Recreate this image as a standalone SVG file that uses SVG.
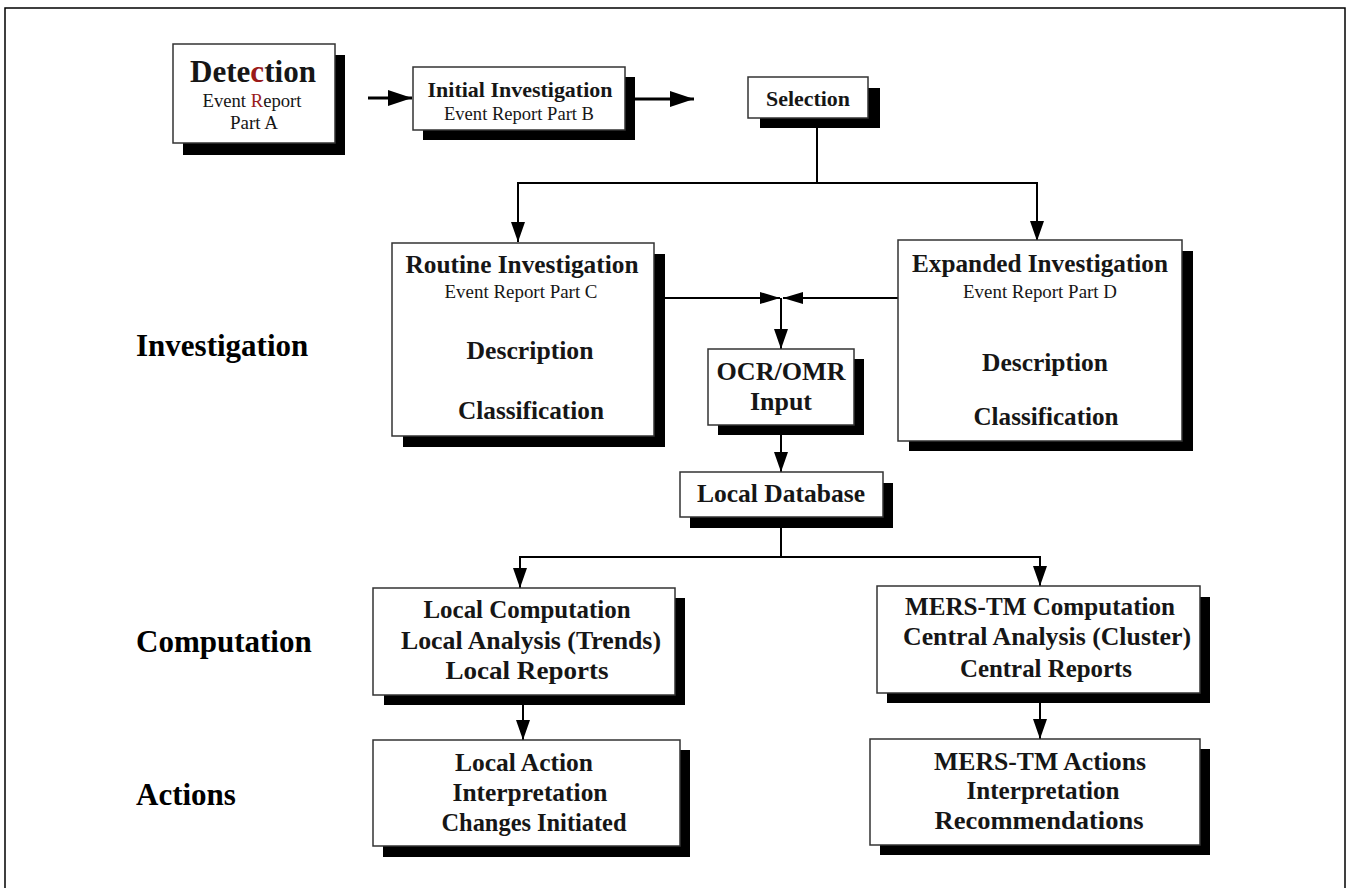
<svg xmlns="http://www.w3.org/2000/svg" width="1350" height="888" viewBox="0 0 1350 888">
<defs>
<marker id="ahb" viewBox="0 0 24 16" refX="24" refY="8" markerWidth="24" markerHeight="16" markerUnits="userSpaceOnUse" orient="auto"><path d="M0,0 L24,8 L0,16 Z" fill="#000"/></marker>
<marker id="ah" viewBox="0 0 20 14" refX="20" refY="7" markerWidth="20" markerHeight="14" markerUnits="userSpaceOnUse" orient="auto"><path d="M0,0 L20,7 L0,14 Z" fill="#000"/></marker>
<marker id="ahs" viewBox="0 0 20 12" refX="20" refY="6" markerWidth="20" markerHeight="12" markerUnits="userSpaceOnUse" orient="auto"><path d="M0,0 L20,6 L0,12 Z" fill="#000"/></marker>
</defs>
<style>
.box{fill:#fff;stroke:#333;stroke-width:1.5}
.sh{fill:#000}
text{font-family:"Liberation Serif","Times New Roman",serif;fill:#161616;text-anchor:middle}
.b{font-weight:bold;font-size:25px}
.s{font-size:19px}
.lbl{font-weight:bold;font-size:31px;text-anchor:start;fill:#000}
.c{stroke:#000;stroke-width:2;fill:none}
.t{stroke:#000;stroke-width:3;fill:none}
</style>
<rect x="0" y="0" width="1350" height="888" fill="#fff"/>
<rect x="5" y="8" width="1340" height="890" fill="none" stroke="#000" stroke-width="1.5"/>

<g id="labels">
<text class="lbl" x="136" y="356">Investigation</text>
<text class="lbl" x="136" y="652">Computation</text>
<text class="lbl" x="136" y="805">Actions</text>
</g>

<g id="connectors">
<line class="t" x1="368" y1="98" x2="412" y2="98" marker-end="url(#ahb)"/>
<line class="t" x1="635" y1="99" x2="694" y2="99" marker-end="url(#ahb)"/>
<polyline class="c" points="817,128 817,183 518,183 518,242" marker-end="url(#ah)"/>
<polyline class="c" points="817,183 1037,183 1037,241" marker-end="url(#ah)"/>
<line class="c" x1="665" y1="298" x2="780" y2="298" marker-end="url(#ahs)"/>
<line class="c" x1="898" y1="298" x2="783" y2="298" marker-end="url(#ahs)"/>
<line class="c" x1="781" y1="298" x2="781" y2="349" marker-end="url(#ah)"/>
<line class="c" x1="781" y1="435" x2="781" y2="472" marker-end="url(#ah)"/>
<polyline class="c" points="781,528 781,557 520,557 520,588" marker-end="url(#ah)"/>
<polyline class="c" points="781,557 1040,557 1040,586" marker-end="url(#ah)"/>
<line class="c" x1="523" y1="705" x2="523" y2="740" marker-end="url(#ah)"/>
<line class="c" x1="1040" y1="703" x2="1040" y2="739" marker-end="url(#ah)"/>
</g>

<g id="detection">
<rect class="sh" x="183" y="55" width="162" height="100"/>
<rect class="box" x="173" y="44" width="162" height="99"/>
<text x="253" y="82" font-size="31" font-weight="bold" textLength="126" lengthAdjust="spacingAndGlyphs">Dete<tspan fill="#9a1a1a">c</tspan>tion</text>
<text class="s" x="252" y="107" textLength="99" lengthAdjust="spacingAndGlyphs">Event <tspan fill="#9a1a1a">R</tspan>eport</text>
<text class="s" x="254" y="129">Part A</text>
</g>

<g id="initial">
<rect class="sh" x="423" y="77" width="212" height="63"/>
<rect class="box" x="413" y="67" width="212" height="63"/>
<text x="520" y="97" font-size="22" font-weight="bold" textLength="185" lengthAdjust="spacingAndGlyphs">Initial Investigation</text>
<text class="s" x="519" y="120" textLength="150" lengthAdjust="spacingAndGlyphs">Event Report Part B</text>
</g>

<g id="selection">
<rect class="sh" x="760" y="88" width="120" height="40"/>
<rect class="box" x="748" y="77" width="120" height="41"/>
<text x="808" y="106" font-size="22" font-weight="bold" textLength="84" lengthAdjust="spacingAndGlyphs">Selection</text>
</g>

<g id="routine">
<rect class="sh" x="403" y="254" width="262" height="193"/>
<rect class="box" x="392" y="243" width="262" height="193"/>
<text class="b" x="522" y="273" textLength="233" lengthAdjust="spacingAndGlyphs">Routine Investigation</text>
<text class="s" x="521" y="298" textLength="153" lengthAdjust="spacingAndGlyphs">Event Report Part C</text>
<text class="b" x="530" y="359" textLength="127" lengthAdjust="spacingAndGlyphs">Description</text>
<text class="b" x="531" y="419" textLength="146" lengthAdjust="spacingAndGlyphs">Classification</text>
</g>

<g id="expanded">
<rect class="sh" x="909" y="251" width="284" height="200"/>
<rect class="box" x="898" y="240" width="284" height="201"/>
<text class="b" x="1040" y="272" textLength="256" lengthAdjust="spacingAndGlyphs">Expanded Investigation</text>
<text class="s" x="1040" y="298" textLength="154" lengthAdjust="spacingAndGlyphs">Event Report Part D</text>
<text class="b" x="1045" y="371" textLength="126" lengthAdjust="spacingAndGlyphs">Description</text>
<text class="b" x="1046" y="425" textLength="145" lengthAdjust="spacingAndGlyphs">Classification</text>
</g>

<g id="ocr">
<rect class="sh" x="718" y="359" width="146" height="76"/>
<rect class="box" x="708" y="349" width="146" height="76"/>
<text class="b" x="781" y="380" textLength="129" lengthAdjust="spacingAndGlyphs">OCR/OMR</text>
<text class="b" x="781" y="410" textLength="62" lengthAdjust="spacingAndGlyphs">Input</text>
</g>

<g id="localdb">
<rect class="sh" x="690" y="483" width="203" height="45"/>
<rect class="box" x="680" y="472" width="203" height="45"/>
<text class="b" x="781" y="502" textLength="168" lengthAdjust="spacingAndGlyphs">Local Database</text>
</g>

<g id="localcomp">
<rect class="sh" x="384" y="598" width="301" height="107"/>
<rect class="box" x="373" y="588" width="302" height="107"/>
<text class="b" x="527" y="618" textLength="207" lengthAdjust="spacingAndGlyphs">Local Computation</text>
<text class="b" x="531" y="649" textLength="260" lengthAdjust="spacingAndGlyphs">Local Analysis (Trends)</text>
<text class="b" x="527" y="679" textLength="163" lengthAdjust="spacingAndGlyphs">Local Reports</text>
</g>

<g id="merscomp">
<rect class="sh" x="887" y="597" width="323" height="106"/>
<rect class="box" x="877" y="586" width="323" height="107"/>
<text class="b" x="1040" y="615" textLength="270" lengthAdjust="spacingAndGlyphs">MERS-TM Computation</text>
<text class="b" x="1047" y="645" textLength="288" lengthAdjust="spacingAndGlyphs">Central Analysis (Cluster)</text>
<text class="b" x="1046" y="677" textLength="172" lengthAdjust="spacingAndGlyphs">Central Reports</text>
</g>

<g id="localaction">
<rect class="sh" x="383" y="750" width="307" height="107"/>
<rect class="box" x="373" y="740" width="307" height="106"/>
<text class="b" x="524" y="771" textLength="138" lengthAdjust="spacingAndGlyphs">Local Action</text>
<text class="b" x="530" y="801" textLength="155" lengthAdjust="spacingAndGlyphs">Interpretation</text>
<text class="b" x="534" y="831" textLength="185" lengthAdjust="spacingAndGlyphs">Changes Initiated</text>
</g>

<g id="mersactions">
<rect class="sh" x="880" y="749" width="330" height="106"/>
<rect class="box" x="870" y="739" width="330" height="106"/>
<text class="b" x="1040" y="770" textLength="212" lengthAdjust="spacingAndGlyphs">MERS-TM Actions</text>
<text class="b" x="1043" y="799" textLength="153" lengthAdjust="spacingAndGlyphs">Interpretation</text>
<text class="b" x="1039" y="829" textLength="209" lengthAdjust="spacingAndGlyphs">Recommendations</text>
</g>
</svg>
